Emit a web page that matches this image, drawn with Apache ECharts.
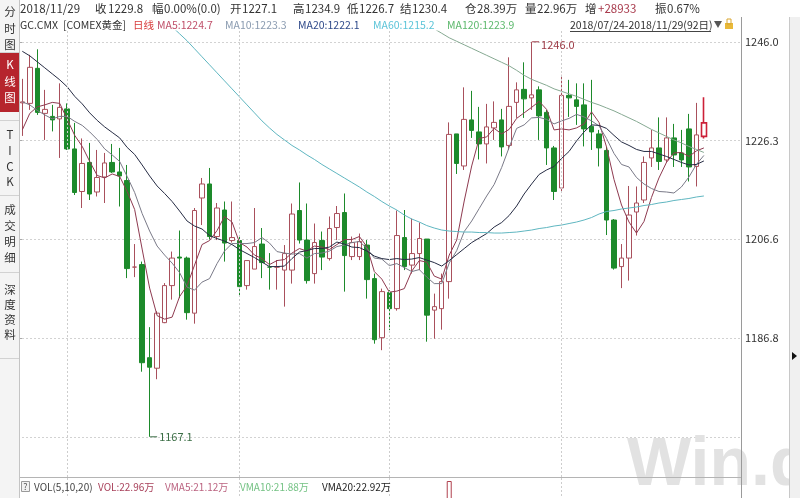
<!DOCTYPE html>
<html><head><meta charset="utf-8">
<script src="https://cdn.jsdelivr.net/npm/echarts@6/dist/echarts.min.js"></script>
<style>html,body{margin:0;padding:0;background:#fff;overflow:hidden}#c{width:800px;height:498px}</style>
</head><body><div id="c"></div><script>
// ---------------- DATA ----------------
const dates = [
'2018/07/24','2018/07/25','2018/07/26','2018/07/27','2018/07/30','2018/07/31',
'2018/08/01','2018/08/02','2018/08/03','2018/08/06','2018/08/07','2018/08/08','2018/08/09','2018/08/10','2018/08/13','2018/08/14','2018/08/15','2018/08/16','2018/08/17','2018/08/20','2018/08/21','2018/08/22','2018/08/23','2018/08/24','2018/08/27','2018/08/28','2018/08/29','2018/08/30','2018/08/31',
'2018/09/03','2018/09/04','2018/09/05','2018/09/06','2018/09/07','2018/09/10','2018/09/11','2018/09/12','2018/09/13','2018/09/14','2018/09/17','2018/09/18','2018/09/19','2018/09/20','2018/09/21','2018/09/24','2018/09/25','2018/09/26','2018/09/27','2018/09/28',
'2018/10/01','2018/10/02','2018/10/03','2018/10/04','2018/10/05','2018/10/08','2018/10/09','2018/10/10','2018/10/11','2018/10/12','2018/10/15','2018/10/16','2018/10/17','2018/10/18','2018/10/19','2018/10/22','2018/10/23','2018/10/24','2018/10/25','2018/10/26','2018/10/29','2018/10/30','2018/10/31',
'2018/11/01','2018/11/02','2018/11/05','2018/11/06','2018/11/07','2018/11/08','2018/11/09','2018/11/12','2018/11/13','2018/11/14','2018/11/15','2018/11/16','2018/11/19','2018/11/20','2018/11/21','2018/11/23','2018/11/26','2018/11/27','2018/11/28','2018/11/29'];

const opens = [1233.8,1233.7,1240.7,1231.7,1231.1,1230.6,1232.6,1224.6,1216.1,1221.9,
1216.0,1219.0,1221.9,1220.0,1218.3,1201.0,1201.5,1182.9,1180.8,1189.9,
1197.3,1203.0,1202.8,1191.8,1214.8,1217.6,1207.1,1212.4,1206.3,1206.3,
1197.3,1200.6,1205.6,1201.0,1201.0,1200.4,1200.4,1212.3,1206.4,1199.7,
1206.3,1202.7,1208.9,1211.9,1203.1,1203.1,1205.4,1198.7,1186.9,1195.9,
1192.7,1206.9,1201.4,1203.7,1206.6,1192.4,1192.7,1198.1,1227.6,1221.2,
1230.4,1228.0,1225.6,1228.8,1230.4,1225.3,1233.9,1236.5,1234.8,1236.4,
1231.9,1224.8,1216.8,1235.3,1234.4,1233.4,1229.1,1227.6,1224.3,1210.4,
1201.1,1202.8,1212.0,1214.4,1222.8,1224.8,1222.4,1226.8,1223.8,1228.6,
1221.1,1227.1];
const closes = [1234.0,1240.9,1231.9,1232.5,1230.4,1232.9,1224.6,1215.9,1221.7,1215.6,
1218.9,1221.8,1220.0,1219.2,1200.7,1201.0,1181.9,1181.0,1191.8,1197.3,
1202.8,1202.8,1191.9,1212.3,1217.6,1207.1,1212.8,1205.8,1206.9,1197.1,
1202.3,1205.1,1201.9,1201.0,1201.0,1203.7,1211.6,1206.4,1198.3,1205.9,
1203.0,1208.7,1211.7,1203.3,1205.9,1206.1,1198.5,1186.5,1196.1,1192.7,
1207.3,1201.1,1203.7,1206.7,1191.4,1193.1,1198.1,1227.5,1221.7,1230.5,
1228.3,1225.6,1229.0,1229.9,1225.0,1233.1,1236.4,1234.6,1235.4,1231.2,
1224.8,1216.1,1235.3,1234.8,1233.1,1228.6,1228.0,1224.8,1210.4,1200.8,
1202.8,1211.4,1213.8,1221.9,1224.8,1222.1,1226.8,1223.4,1222.4,1221.0,
1227.4,1229.8];
const lows = [1227.2,1232.4,1231.4,1226.4,1228.1,1222.8,1224.4,1215.4,1212.8,1214.4,
1215.1,1213.8,1219.8,1213.1,1198.8,1199.0,1180.1,1167.1,1178.6,1189.8,
1194.5,1194.8,1190.5,1189.7,1209.4,1206.5,1206.4,1202.1,1205.9,1195.1,
1196.5,1200.6,1198.8,1196.5,1196.5,1193.1,1197.7,1205.7,1197.7,1197.7,
1200.4,1202.3,1206.4,1196.1,1202.4,1202.4,1194.7,1185.7,1184.4,1188.4,
1192.3,1200.4,1199.7,1200.4,1186.1,1186.7,1188.5,1194.7,1219.6,1220.4,
1226.8,1222.5,1221.7,1226.4,1223.1,1224.4,1230.8,1230.8,1232.4,1226.4,
1221.4,1214.4,1216.1,1231.0,1229.4,1225.1,1224.4,1221.1,1207.4,1200.5,
1196.8,1198.3,1207.3,1213.8,1221.0,1220.4,1221.8,1221.0,1221.0,1218.1,
1217.1,1226.7];
const highs = [1238.6,1243.4,1244.5,1236.4,1233.4,1237.7,1233.7,1229.8,1226.7,1225.8,
1224.4,1223.8,1225.6,1224.8,1221.4,1205.6,1202.1,1189.0,1192.2,1197.8,
1204.1,1208.3,1203.1,1212.8,1218.8,1220.8,1213.8,1214.1,1214.1,1207.1,
1202.3,1212.8,1208.8,1203.8,1202.4,1205.4,1213.7,1217.9,1213.7,1209.7,
1208.1,1211.1,1213.2,1215.7,1207.1,1207.7,1206.4,1199.7,1196.7,1196.4,
1212.3,1212.4,1210.7,1209.9,1206.6,1195.7,1199.7,1229.9,1227.6,1236.9,
1236.2,1233.0,1233.6,1234.1,1232.6,1242.9,1237.9,1241.9,1246.0,1237.1,
1232.4,1225.2,1239.4,1238.4,1237.7,1237.7,1238.4,1228.4,1225.0,1210.6,
1205.6,1217.2,1217.1,1223.1,1228.4,1230.9,1230.9,1229.6,1228.4,1231.6,
1233.8,1234.9];

const ma5 = [1228.4,1231.7,1233.0,1233.4,1233.9,1233.7,1230.5,1227.3,1225.1,1222.1,
1219.3,1218.8,1219.6,1219.1,1216.1,1212.5,1204.6,1196.8,1191.3,1190.6,
1191.0,1195.1,1197.3,1201.4,1205.5,1206.3,1208.3,1211.1,1210.0,1205.9,
1205.0,1203.4,1202.7,1201.5,1202.3,1202.5,1203.8,1204.7,1204.2,1205.2,
1205.0,1204.5,1205.5,1206.5,1206.5,1207.1,1205.1,1200.1,1198.6,1196.0,
1196.2,1196.7,1200.2,1202.3,1202.0,1199.2,1198.6,1203.4,1206.4,1214.2,
1221.2,1226.7,1227.0,1228.7,1227.6,1228.5,1230.7,1231.8,1232.9,1234.1,
1232.5,1228.4,1228.6,1228.4,1228.8,1229.6,1232.0,1229.9,1225.0,1218.5,
1213.4,1210.0,1207.8,1210.1,1214.9,1218.8,1221.9,1223.8,1223.9,1223.1,
1224.2,1224.8];
const ma10 = [1234.0,1233.4,1232.3,1231.4,1230.6,1231.1,1231.1,1230.1,1229.3,1228.0,
1226.5,1224.6,1223.4,1222.1,1219.1,1215.9,1211.7,1208.2,1205.2,1203.4,
1201.8,1199.9,1197.0,1196.4,1198.0,1198.7,1201.7,1204.2,1205.7,1205.7,
1205.7,1205.9,1206.9,1205.8,1204.1,1203.8,1203.6,1203.7,1202.8,1203.7,
1203.8,1204.2,1205.1,1205.4,1205.9,1206.1,1204.8,1202.8,1202.6,1201.3,
1201.7,1200.9,1200.1,1200.5,1199.0,1197.7,1197.7,1201.8,1204.3,1208.1,
1210.2,1212.7,1215.2,1217.5,1220.9,1224.9,1228.7,1229.4,1230.8,1230.9,
1230.5,1229.6,1230.2,1230.7,1231.5,1231.0,1230.2,1229.2,1226.7,1223.7,
1221.5,1221.0,1218.9,1217.6,1216.7,1216.1,1216.0,1215.8,1217.0,1219.0,
1221.5,1223.3];
const ma20 = [1244.1,1243.2,1242.0,1240.8,1239.6,1238.4,1237.0,1235.1,1233.6,1231.8,
1230.3,1229.0,1227.9,1226.8,1224.9,1223.5,1221.4,1219.2,1217.2,1215.7,
1214.1,1212.2,1210.2,1209.2,1208.6,1207.3,1206.7,1206.2,1205.5,1204.5,
1203.7,1202.9,1202.0,1201.1,1201.1,1201.2,1202.7,1204.0,1204.3,1204.7,
1204.7,1205.0,1206.0,1205.6,1205.0,1204.9,1204.2,1203.2,1202.7,1202.5,
1202.7,1202.5,1202.6,1202.9,1202.4,1201.9,1201.2,1202.3,1203.5,1204.7,
1205.9,1206.8,1207.7,1209.0,1209.9,1211.3,1213.2,1215.6,1217.6,1219.5,
1220.4,1221.1,1222.7,1224.1,1226.2,1228.0,1229.4,1229.3,1228.7,1227.3,
1226.0,1225.3,1224.5,1224.1,1224.1,1223.6,1223.1,1222.5,1221.9,1221.4,
1221.5,1222.2];
// MA60 / MA120: above the visible window (not readable) before these points
const ma60 = [null,null,null,null,null,null,null,null,null,null,
null,null,null,null,null,null,null,null,null,null,
1249.0,1247.6,1246.2,1244.6,1243.0,1241.4,1239.8,1238.2,1236.6,1235.0,
1233.4,1231.8,1230.2,1228.8,1227.5,1226.4,1225.3,1224.4,1223.4,1222.5,
1221.5,1220.6,1219.7,1218.8,1217.9,1217.0,1216.0,1215.1,1214.1,1213.2,
1212.4,1211.4,1210.6,1210.0,1209.3,1208.8,1208.4,1208.2,1208.1,1208.0,
1208.0,1207.9,1207.9,1207.8,1207.8,1207.9,1208.0,1208.2,1208.4,1208.7,
1208.9,1209.2,1209.4,1209.7,1210.0,1210.4,1210.9,1211.6,1212.1,1212.3,
1212.6,1212.8,1213.0,1213.3,1213.5,1213.8,1214.0,1214.3,1214.5,1214.7,
1215.0,1215.2];
const ma120 = [null,null,null,null,null,null,null,null,null,null,
null,null,null,null,null,null,null,null,null,null,
null,null,null,null,null,null,null,null,null,null,
null,null,null,null,null,null,null,null,null,null,
null,null,null,null,null,null,null,null,null,null,
null,null,null,null,1249.5,1248.6,1247.7,1246.8,1246.1,1245.4,
1244.7,1244.0,1243.3,1242.6,1241.9,1241.2,1240.3,1239.3,1238.5,1237.9,
1237.3,1236.6,1236.1,1235.6,1235.1,1234.5,1233.9,1233.4,1232.8,1232.2,
1231.5,1230.8,1230.1,1229.3,1228.5,1227.8,1227.1,1226.4,1225.8,1225.1,
1224.5,1223.9];
// volume (万手): only the 2018/10/11 bar reaches into the visible strip
const volumes = dates.map(d => d === '2018/10/11' ? 54 : null);

// axis labelling: Wind spans the price axis from the window low to the window high, 4 splits
const axisLow = 1167.1, axisHigh = 1246.0, axisSplits = 4;

// header texts
const header1 = [['2018/11/29',''],['收','1229.8'],['幅','0.00%(0.0)'],['开','1227.1'],['高','1234.9'],['低','1226.7'],['结','1230.4'],['仓','28.39万'],['量','22.96万'],['增','+28933'],['振','0.67%']];
const header2 = ['GC.CMX','[COMEX黄金]','日线','MA5:1224.7','MA10:1223.3','MA20:1222.1','MA60:1215.2','MA120:1223.9','2018/07/24-2018/11/29(92日)'];
const volHeader = ['VOL(5,10,20)','VOL:22.96万','VMA5:21.12万','VMA10:21.88万','VMA20:22.92万'];
const sideTabs = [['分','时','图'],['K','线','图'],['T','I','C','K'],['成','交','明','细'],['深','度','资','料']];

// ---------------- LAYOUT ----------------
const FONT = '"Noto Sans CJK SC", "Noto Sans", sans-serif';
const padCats = 4;
const cats = dates.concat(Array(padCats).fill(''));
const band = 7.49;
const gLeft = 22.3 - band / 2, gWidth = band * cats.length;
const gTop = 31, gBottom = 477;
const yHighPx = 41.8, yLowPx = 436.8;
const k = (yLowPx - yHighPx) / (axisHigh - axisLow);
const y0max = axisHigh + (yHighPx - gTop) / k;
const y0min = axisLow - (gBottom - yLowPx) / k;

const monthStarts = dates.filter((d, i) => i > 0 && d.slice(5, 7) !== dates[i - 1].slice(5, 7));

const candleData = dates.map((d, i) => {
  const v = [opens[i], closes[i], lows[i], highs[i]];
  if (i === dates.length - 1) return {value: v, itemStyle: {borderColor: '#cc2038', color: '#fff', borderWidth: 1.6}};
  return v;
});

const vLine = {
  silent: true, symbol: 'none', label: {show: false}, animation: false,
  lineStyle: {color: '#cdcdcd', type: [2, 2], width: 1},
  data: monthStarts.map(m => ({xAxis: m}))
};

function T(x, y, text, fill, size, extra) {
  return {type: 'text', x: x, y: y, z: 100,
    style: Object.assign({text: text, fill: fill, font: (size || 11) + 'px ' + FONT, verticalAlign: 'middle'}, extra || {})};
}
const g = [];
// sidebar
g.push({type: 'rect', z: 90, shape: {x: 0, y: 0, width: 19, height: 498}, style: {fill: '#f4f4f4'}});
g.push({type: 'line', z: 91, shape: {x1: 19.5, y1: 0, x2: 19.5, y2: 498}, style: {stroke: '#c4c4c4', lineWidth: 1}});
g.push({type: 'rect', z: 91, shape: {x: 0, y: 53, width: 19, height: 59}, style: {fill: '#b6252d'}});
[52, 120, 195, 272, 358].forEach(y => g.push({type: 'line', z: 91, shape: {x1: 0, y1: y + 0.5, x2: 19, y2: y + 0.5}, style: {stroke: '#d2d2d2', lineWidth: 1}}));
const tabYs = [[12, 29, 45], [65, 82, 98], [135, 151, 167, 182], [210, 226, 242, 258], [290, 305, 320, 335]];
sideTabs.forEach((tab, ti) => tab.forEach((ch, ci) => g.push(T(10, tabYs[ti][ci], ch, ti === 1 ? '#ffffff' : '#333333', 11.5, {align: 'center'}))));
// header row 1
const h1x = [[20], [95, 108], [152, 164], [230, 242], [293, 305], [347, 359], [400, 412], [465, 477], [525, 537], [585, 598], [655, 667]];
header1.forEach((p, i) => {
  g.push(T(h1x[i][0], 9, p[0], '#333', 11.5));
  if (p[1]) g.push(T(h1x[i][1], 9, p[1], p[0] === '增' ? '#a83a4c' : '#333', 11.5));
});
// header row 2
const h2x = [20, 63, 133, 157, 225, 298, 373, 447, 570];
const h2c = ['#333', '#333', '#d83a3a', '#c0506a', '#8a9bb0', '#2f4a8a', '#5cc4d8', '#5cb86c', '#333'];
header2.forEach((t, i) => g.push(T(h2x[i], 25, t, h2c[i], 10.5)));
g.push({type: 'line', z: 100, shape: {x1: 570, y1: 31.5, x2: 711, y2: 31.5}, style: {stroke: '#444', lineWidth: 1}});
g.push({type: 'polygon', z: 100, shape: {points: [[714, 21], [722, 21], [718, 28]]}, style: {fill: '#555'}});
g.push({type: 'rect', z: 100, shape: {x: 725, y: 23, width: 8, height: 6}, style: {fill: '#e9b93a'}});
g.push({type: 'rect', z: 100, shape: {x: 727, y: 19, width: 4, height: 5}, style: {fill: 'none', stroke: '#d9a630', lineWidth: 1}});
// right axis line and strip
g.push({type: 'line', z: 50, shape: {x1: 741.5, y1: 17, x2: 741.5, y2: 498}, style: {stroke: '#9a9a9a', lineWidth: 1}});
g.push({type: 'rect', z: 50, shape: {x: 789, y: 17, width: 11, height: 481}, style: {fill: '#f0f0f0'}});
g.push({type: 'line', z: 51, shape: {x1: 789.5, y1: 17, x2: 789.5, y2: 498}, style: {stroke: '#c8c8c8', lineWidth: 1}});
g.push({type: 'polygon', z: 51, shape: {points: [[792, 352], [797, 356], [792, 360]]}, style: {fill: '#111'}});
// volume pane
g.push({type: 'line', z: 50, shape: {x1: 19, y1: 477.5, x2: 741, y2: 477.5}, style: {stroke: '#b4b4b4', lineWidth: 1}});
g.push({type: 'rect', z: 100, shape: {x: 21.5, y: 481.5, width: 8, height: 10}, style: {fill: '#f2f2f2', stroke: '#9a9a9a', lineWidth: 1}});
g.push(T(25.5, 487, '?', '#555', 9, {align: 'center'}));
const vx = [34, 98, 165, 240, 322];
const vc = ['#444', '#a8405a', '#bb6380', '#74c284', '#222'];
volHeader.forEach((t, i) => g.push(T(vx[i], 487, t, vc[i], 10)));
// watermark
g.push({type: 'text', z: 1, x: 627, y: 432, style: {text: 'Win.d', fill: '#e2e2e2', font: 'bold 68px "Liberation Sans", Arial, sans-serif', verticalAlign: 'top'}});

const option = {
  animation: false,
  backgroundColor: '#ffffff',
  grid: [
    {left: gLeft, top: gTop, width: gWidth, height: gBottom - gTop},
    {left: 18, top: yHighPx, width: 741 - 18, height: yLowPx - yHighPx},
    {left: gLeft, top: 478, width: gWidth, height: 120}
  ],
  xAxis: [
    {type: 'category', gridIndex: 0, data: cats, show: false},
    {type: 'value', gridIndex: 1, min: 0, max: 1, show: false},
    {type: 'category', gridIndex: 2, data: cats, show: false}
  ],
  yAxis: [
    {type: 'value', gridIndex: 0, min: y0min, max: y0max, show: false},
    {type: 'value', gridIndex: 1, position: 'right', min: axisLow, max: axisHigh,
      interval: (axisHigh - axisLow) / axisSplits,
      axisLine: {show: false},
      axisTick: {show: true, length: 4, lineStyle: {color: '#aaa'}},
      axisLabel: {margin: 4, color: '#333', fontSize: 11, fontFamily: FONT, showMinLabel: false, showMaxLabel: true,
        formatter: v => (Math.round(v * 10 + 1e-6) / 10).toFixed(1)},
      splitLine: {show: true, lineStyle: {color: '#d2d2d2', type: [2, 2], width: 1}}},
    {type: 'value', gridIndex: 2, min: 0, max: 60, show: false}
  ],
  graphic: g,
  series: [
    {type: 'candlestick', xAxisIndex: 0, yAxisIndex: 0, data: candleData, barWidth: 5,
      itemStyle: {color: '#ffffff', color0: '#1d8a2b', borderColor: '#a9505c', borderColor0: '#1d8a2b', borderWidth: 1},
      markLine: vLine,
      markPoint: {
        symbol: 'rect', symbolSize: [7, 1], symbolOffset: [4, 0], animation: false,
        label: {show: true, position: 'right', distance: 2, fontSize: 11, fontFamily: FONT, formatter: p => Number(p.value).toFixed(1)},
        data: [
          {type: 'max', valueDim: 'highest', itemStyle: {color: '#9c3844'}, label: {color: '#9c3844', offset: [0, 3]}},
          {type: 'min', valueDim: 'lowest', itemStyle: {color: '#3b6e45'}, label: {color: '#3b6e45'}}
        ]
      }},
    {type: 'line', name: 'MA5', data: ma5, symbol: 'none', lineStyle: {width: 1, color: '#8e3a50'}, itemStyle: {color: '#8e3a50'}},
    {type: 'line', name: 'MA10', data: ma10, symbol: 'none', lineStyle: {width: 1, color: '#7a7a88'}, itemStyle: {color: '#7a7a88'}},
    {type: 'line', name: 'MA20', data: ma20, symbol: 'none', lineStyle: {width: 1, color: '#262c44'}, itemStyle: {color: '#262c44'}},
    {type: 'line', name: 'MA60', data: ma60, symbol: 'none', lineStyle: {width: 1, color: '#5fb6c0'}, itemStyle: {color: '#5fb6c0'}},
    {type: 'line', name: 'MA120', data: ma120, symbol: 'none', lineStyle: {width: 1, color: '#86a992'}, itemStyle: {color: '#86a992'}},
    {type: 'bar', xAxisIndex: 2, yAxisIndex: 2, data: volumes, barWidth: 5,
      itemStyle: {color: '#ffffff', borderColor: '#b0404e', borderWidth: 1}, markLine: vLine}
  ]
};
const chart = echarts.init(document.getElementById('c'), null, {renderer: 'canvas'});
chart.setOption(option);
</script></body></html>
